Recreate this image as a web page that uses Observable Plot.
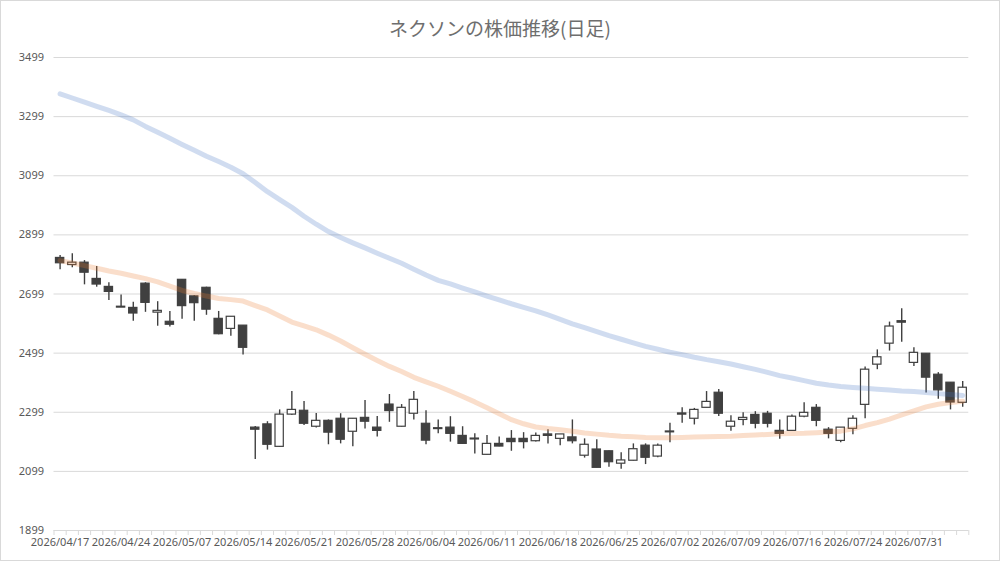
<!DOCTYPE html>
<html>
<head>
<meta charset="utf-8">
<script src="https://cdn.jsdelivr.net/npm/d3@7"></script>
<script src="https://cdn.jsdelivr.net/npm/@observablehq/plot@0.6"></script>
<style>
  body { margin: 0; background: #fff; }
  #wrap { position: relative; width: 1000px; height: 561px; overflow: hidden; background: #fff; }
  #title { position: absolute; left: 0; top: 0; width: 1000px; height: 33px; padding-top: 11px;
           line-height: 33px; text-align: center; font-family: "Noto Sans CJK JP", sans-serif;
           font-size: 19px; color: #6e6e6e; }
  #chart { position: absolute; left: 0; top: 44px; }
  #frame { position: absolute; left: 0; top: 0; width: 1000px; height: 561px; box-sizing: border-box;
           border: 1px solid #d9d9d9; pointer-events: none; }
</style>
</head>
<body>
<div id="wrap">
  <div id="title">ネクソンの株価推移(日足)</div>
  <div id="chart"></div>
  <div id="frame"></div>
</div>
<script>
const dates = [
  "2026/04/17","2026/04/20","2026/04/21","2026/04/22","2026/04/23","2026/04/24","2026/04/27","2026/04/28","2026/04/30","2026/05/01",
  "2026/05/07","2026/05/08","2026/05/11","2026/05/12","2026/05/13","2026/05/14","2026/05/15","2026/05/18","2026/05/19","2026/05/20",
  "2026/05/21","2026/05/22","2026/05/25","2026/05/26","2026/05/27","2026/05/28","2026/05/29","2026/06/01","2026/06/02","2026/06/03",
  "2026/06/04","2026/06/05","2026/06/08","2026/06/09","2026/06/10","2026/06/11","2026/06/12","2026/06/15","2026/06/16","2026/06/17",
  "2026/06/18","2026/06/19","2026/06/22","2026/06/23","2026/06/24","2026/06/25","2026/06/26","2026/06/29","2026/06/30","2026/07/01",
  "2026/07/02","2026/07/03","2026/07/06","2026/07/07","2026/07/08","2026/07/09","2026/07/10","2026/07/13","2026/07/14","2026/07/15",
  "2026/07/16","2026/07/17","2026/07/21","2026/07/22","2026/07/23","2026/07/24","2026/07/27","2026/07/28","2026/07/29","2026/07/30",
  "2026/07/31","2026/08/03","2026/08/04","2026/08/05","2026/08/06"
];
const open = [
  2821,2797,2805,2750,2723,2656,2652,2734,2636,2605,2747,2691,2720,2615,2581,2592,
  2247,2258,2182,2291,2304,2250,2270,2277,2233,2280,2247,2325,2250,2294,2260,2245,2247,2219,
  2210,2155,2192,2209,2209,2201,2224,2209,2214,2152,2173,2167,2125,2135,2186,2149,2234,2295,
  2277,2314,2365,2250,2273,2290,2294,2236,2236,2284,2314,2240,2202,2243,2324,2460,2531,2607,
  2466,2497,2426,2399,2331
];
const close = [
  2803,2805,2771,2731,2706,2653,2633,2669,2642,2595,2658,2668,2646,2563,2622,2517,
  2240,2189,2291,2307,2260,2270,2230,2206,2277,2267,2236,2303,2314,2341,2203,2242,2226,2192,
  2207,2192,2183,2198,2198,2219,2219,2224,2201,2189,2111,2130,2136,2174,2145,2186,2231,2291,
  2307,2334,2294,2267,2280,2260,2260,2226,2284,2297,2270,2226,2247,2277,2443,2485,2589,2602,
  2500,2416,2373,2332,2382
];
const high = [
  2829,2835,2812,2792,2737,2696,2671,2737,2673,2640,2748,2694,2722,2640,2622,2592,
  2251,2267,2307,2369,2335,2295,2273,2294,2278,2339,2285,2359,2325,2369,2304,2273,2284,2250,
  2226,2220,2215,2237,2230,2229,2240,2224,2273,2209,2206,2168,2162,2192,2192,2192,2262,2314,
  2312,2369,2376,2287,2297,2301,2302,2273,2290,2331,2325,2247,2247,2287,2452,2510,2604,2649,
  2517,2498,2433,2399,2403
];
const low = [
  2781,2788,2730,2722,2677,2653,2607,2637,2590,2587,2614,2607,2627,2561,2556,2493,
  2139,2171,2180,2288,2254,2246,2189,2192,2182,2242,2215,2265,2249,2273,2189,2226,2198,2191,
  2158,2154,2182,2167,2175,2198,2192,2186,2192,2144,2111,2113,2106,2134,2122,2145,2196,2262,
  2256,2314,2285,2235,2253,2243,2246,2208,2235,2280,2250,2209,2196,2223,2277,2443,2506,2536,
  2454,2364,2343,2307,2316
];
const maLong = [
  3376,3362,3348,3334,3320,3305,3288,3266,3246,3226,3205,3185,3165,3147,3128,3106,3076,3045,3018,2992,
  2962,2935,2910,2890,2872,2855,2837,2820,2803,2783,2763,2745,2733,2719,2706,2692,2679,2666,2654,2642,
  2628,2613,2598,2585,2572,2558,2546,2534,2522,2512,2502,2494,2485,2477,2470,2462,2453,2444,2434,2423,
  2415,2406,2397,2391,2386,2383,2380,2377,2374,2371,2369,2366,2362,2359,2356
];
const maShort = [
  2812,2804,2795,2786,2777,2769,2760,2751,2740,2726,2711,2701,2692,2684,2680,2675,2660,2645,2625,2604,
  2591,2578,2560,2540,2517,2495,2474,2454,2437,2417,2402,2387,2370,2352,2334,2314,2294,2274,2260,2249,
  2244,2240,2235,2229,2225,2221,2218,2216,2214,2213,2213,2214,2215,2216,2217,2218,2220,2222,2224,2226,
  2227,2228,2230,2232,2235,2243,2254,2264,2276,2290,2304,2317,2326,2332,2336
];
const yTicks = [1899, 2099, 2299, 2499, 2699, 2899, 3099, 3299, 3499];

const rows = dates.map((d, i) => ({
  i, date: d, open: open[i], high: high[i], low: low[i], close: close[i],
  up: close[i] >= open[i], maShort: maShort[i], maLong: maLong[i]
}));
const boundaries = d3.range(dates.length + 1).map(k => k - 0.5);
const labelIdx = d3.range(0, dates.length, 5);
const half = 0.34;

const chart = Plot.plot({
  width: 1000,
  height: 517,
  marginTop: 13,
  marginBottom: 31,
  marginLeft: 53.5,
  marginRight: 31.7,
  style: { fontFamily: "'Noto Sans', sans-serif", fontSize: "11px", color: "#595959", background: "#fff" },
  x: { type: "linear", domain: [-0.5, dates.length - 0.5] },
  y: { domain: [1899, 3499] },
  marks: [
    Plot.gridY(yTicks, { stroke: "#d9d9d9", strokeOpacity: 1 }),
    Plot.axisY(yTicks, { tickSize: 0, tickPadding: 10, tickFormat: v => String(v), fill: "#595959", label: null }),
    Plot.axisX(boundaries, { tickSize: 5, tickFormat: () => "", stroke: "#d9d9d9", strokeOpacity: 1, label: null }),
    Plot.axisX(labelIdx, { tickSize: 0, tickPadding: 8, tickFormat: i => dates[i], fill: "#595959", label: null }),
    Plot.ruleX(rows, { x: "i", y1: "low", y2: "high", stroke: "#404040", strokeWidth: 1.4 }),
    Plot.rect(rows, {
      x1: d => d.i - half, x2: d => d.i + half, y1: "open", y2: "close",
      fill: d => d.up ? "#ffffff" : "#404040", stroke: "#404040", strokeWidth: 1.2
    }),
    Plot.line(rows, { x: "i", y: "maLong", stroke: "#4472c4", strokeOpacity: 0.25, strokeWidth: 5 }),
    Plot.line(rows, { x: "i", y: "maShort", stroke: "#ed7d31", strokeOpacity: 0.25, strokeWidth: 5 })
  ]
});
document.getElementById("chart").appendChild(chart);
</script>
</body>
</html>
